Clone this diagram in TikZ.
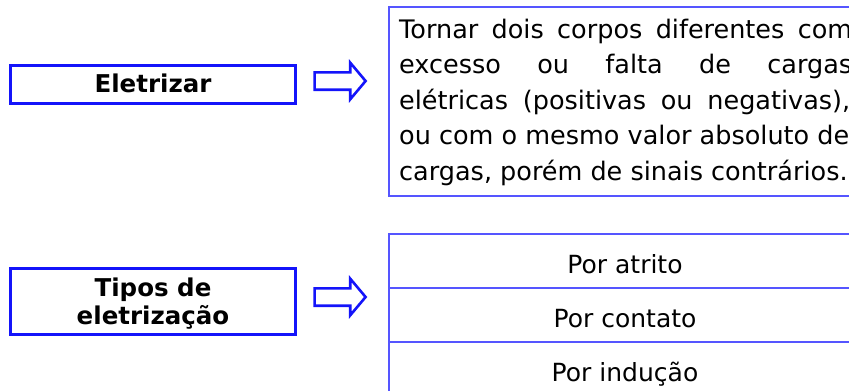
\documentclass[tikz,border=0pt]{standalone}
\usepackage{fontspec}
\setmainfont{DejaVu Sans}
\usetikzlibrary{shapes.arrows}
\definecolor{boxblue}{RGB}{20,20,250}
\definecolor{lineblue}{RGB}{85,85,255}
\begin{document}
\begin{tikzpicture}[x=1pt,y=-1pt,
  thickbox/.style={draw=boxblue, line width=3.2pt, fill=white, inner sep=0pt,
    font=\fontsize{24.5}{28}\selectfont\bfseries, align=center},
  boxlabel/.style={inner sep=0pt, font=\fontsize{24.5}{28}\selectfont\bfseries, align=center},
  thinbox/.style={draw=lineblue, line width=1.5pt, inner sep=0pt, outer sep=0pt},
  rowbox/.style={thinbox, minimum width=472pt, minimum height=54pt,
    font=\fontsize{25}{30}\selectfont, text height=24pt, text depth=0pt},
  blockarrow/.style={single arrow, draw=boxblue, line width=2.6pt, fill=white,
    inner xsep=0pt, inner ysep=7.4pt, minimum height=51pt,
    single arrow head extend=9.6pt, single arrow tip angle=100, anchor=tail},
  descline/.style={anchor=base west, inner sep=0pt, font=\fontsize{25.5}{31}\selectfont}
]
\useasboundingbox (0,0) rectangle (849,391);
\clip (0,0) rectangle (849,391);

% first row
\node[thickbox, minimum width=285pt, minimum height=38pt, text height=16.4pt, text depth=0pt]
  (elet) at (153,84.5) {Eletrizar};
\node[blockarrow] (arr1) at (313.3,81) {};
\node[thinbox, anchor=north west, minimum width=472pt, minimum height=189pt]
  (desc) at (389,7) {};
\node[descline] (d1) at (399,38) {\makebox[453pt][s]{Tornar dois corpos diferentes com}};
\node[descline] (d2) at (399,73.5) {\makebox[453pt][s]{excesso ou falta de cargas}};
\node[descline] (d3) at (399,109) {\makebox[451pt][s]{elétricas (positivas ou negativas),}};
\node[descline] (d4) at (399,144.5) {ou com o mesmo valor absoluto de};
\node[descline] (d5) at (399,180) {cargas, porém de sinais contrários.};

% second row
\node[thickbox, minimum width=285pt, minimum height=66pt] (tipos) at (153,301.5) {};
\node[boxlabel] (tiposlabel) at (153,303.5) {Tipos de\\eletrização};
\node[blockarrow] (arr2) at (313.3,297) {};
\node[rowbox, anchor=north west] (r1) at (389,234) {Por atrito};
\node[rowbox, anchor=north] (r2) at (r1.south) {Por contato};
\node[rowbox, anchor=north] (r3) at (r2.south) {Por indução};
\end{tikzpicture}
\end{document}
